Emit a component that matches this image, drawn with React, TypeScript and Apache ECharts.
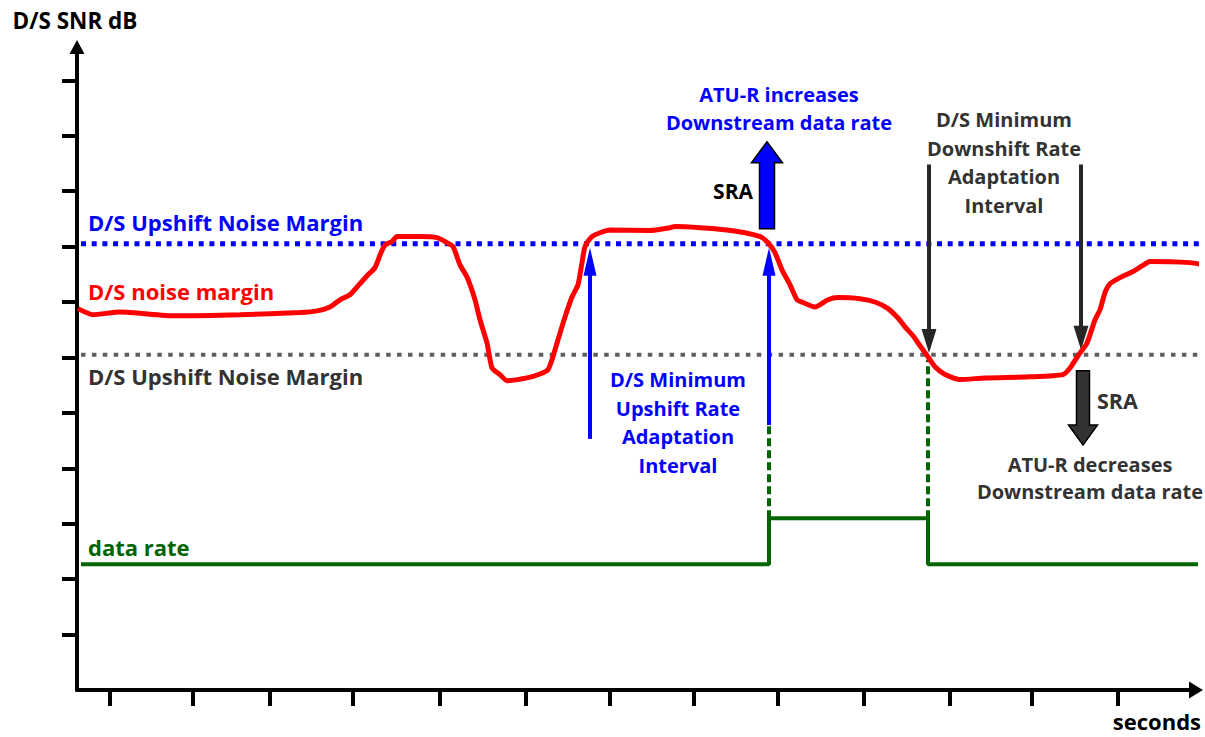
import React, { useEffect, useRef } from 'react';
import * as echarts from 'echarts';

// Axis ticks (arbitrary units: x in "seconds", y in dB)
const xTicks = [3.3, 11.6, 19.3, 27.6, 36.3, 44.9, 53.3, 61.7, 70.1, 78.7, 87.3, 95.5, 104.1];
const yTicks = [1, 2, 3, 4, 5, 6, 7, 8, 9, 10, 11];

// D/S noise margin (red curve)
const noiseX = [0.1, 1.6, 4.3, 9.8, 16.3, 22.3, 24.0, 25.3, 26.3, 27.3, 28.3, 29.1, 29.8, 30.4, 30.8, 31.5, 32.0, 34.3, 36.0, 37.0, 37.6, 38.3, 39.0, 39.8, 40.3, 41.0, 41.5, 42.3, 43.0, 45.0, 46.3, 47.1, 47.5, 48.1, 48.8, 49.5, 50.1, 50.5, 50.8, 51.5, 53.3, 57.3, 59.3, 59.8, 62.3, 65.0, 66.8, 68.3, 69.1, 69.8, 70.5, 71.3, 72.0, 72.6, 73.8, 75.1, 76.1, 78.3, 79.8, 81.1, 82.1, 82.8, 83.6, 84.3, 85.1, 85.8, 86.8, 88.3, 90.8, 95.3, 98.6, 99.3, 100.1, 101.0, 101.8, 102.3, 102.8, 103.3, 104.3, 105.6, 106.5, 107.3, 111.3, 112.7];
const noiseY = [6.88, 6.77, 6.82, 6.75, 6.77, 6.81, 6.84, 6.91, 7.04, 7.13, 7.33, 7.49, 7.62, 7.89, 8.03, 8.09, 8.18, 8.18, 8.16, 8.07, 8.0, 7.67, 7.45, 7.04, 6.68, 6.26, 5.81, 5.69, 5.58, 5.63, 5.7, 5.78, 5.96, 6.32, 6.73, 7.09, 7.31, 7.71, 8.0, 8.18, 8.3, 8.29, 8.34, 8.36, 8.34, 8.3, 8.25, 8.18, 8.07, 7.89, 7.58, 7.31, 7.04, 6.99, 6.91, 7.04, 7.08, 7.06, 7.0, 6.88, 6.71, 6.55, 6.39, 6.21, 6.01, 5.83, 5.69, 5.6, 5.63, 5.65, 5.69, 5.81, 6.03, 6.26, 6.68, 6.86, 7.17, 7.33, 7.44, 7.55, 7.65, 7.73, 7.71, 7.67];

// Threshold lines
const upshiftMargin = 8.05;
const downshiftMargin = 6.05;
const marginLineX = [0.4, 112.8];

// Data rate (green step)
const dataRateX = [0.4, 69.2, 85.1, 112.3];
const dataRateY = [2.27, 3.1, 2.27, 2.27];

// Annotation arrows: [x, yFrom, yTo]
const upshiftArrows = [[51.3, 4.53, 7.98], [69.2, 4.78, 7.98]];
const downshiftArrows = [[85.2, 9.48, 6.08], [100.4, 9.48, 6.14]];
const rateChangeMarkers = [[69.2, 3.1, 4.78], [85.1, 3.1, 5.96]];
const sraUpArrow = [[69.0, 8.32, 9.89]];
const sraDownArrow = [[100.6, 5.76, 4.42]];

const BLUE = '#0000ff';
const RED = '#ff0000';
const GREEN = '#006400';
const DARK = '#262626';
const GRAY_TEXT = '#333333';
const GRAY_LINE = '#5f5f5f';
const FONT = (s: number) => `bold ${s}px "Open Sans"`;

function thinArrow(color: string, headW: number, headL: number, width: number) {
  return (params: any, api: any) => {
    const p0 = api.coord([api.value(0), api.value(1)]);
    const p1 = api.coord([api.value(0), api.value(2)]);
    const dir = p1[1] > p0[1] ? 1 : -1;
    const hy = p1[1] - dir * headL;
    return {
      type: 'group',
      children: [
        { type: 'line', shape: { x1: p0[0], y1: p0[1], x2: p1[0], y2: hy + dir * 2 }, style: { stroke: color, lineWidth: width } },
        { type: 'polygon', shape: { points: [[p1[0] - headW / 2, hy], [p1[0], p1[1]], [p1[0] + headW / 2, hy]] }, style: { fill: color } },
      ],
    };
  };
}

function blockArrow(color: string, bodyW: number, headW: number, headL: number) {
  return (params: any, api: any) => {
    const p0 = api.coord([api.value(0), api.value(1)]);
    const p1 = api.coord([api.value(0), api.value(2)]);
    const cx = p0[0];
    const dir = p1[1] > p0[1] ? 1 : -1;
    const hy = p1[1] - dir * headL;
    const bh = bodyW / 2;
    const hh = headW / 2;
    return {
      type: 'polygon',
      shape: { points: [[cx - bh, p0[1]], [cx - bh, hy], [cx - hh, hy], [cx, p1[1]], [cx + hh, hy], [cx + bh, hy], [cx + bh, p0[1]]] },
      style: { fill: color, stroke: '#000', lineWidth: 1.5 },
    };
  };
}

function dashedMarker(color: string) {
  return (params: any, api: any) => {
    const p0 = api.coord([api.value(0), api.value(1)]);
    const p1 = api.coord([api.value(0), api.value(2)]);
    return { type: 'line', shape: { x1: p0[0], y1: p0[1], x2: p1[0], y2: p1[1] }, style: { stroke: color, lineWidth: 4, lineDash: [8, 4] } };
  };
}

function txt(text: string, x: number, y: number, fill: string, align: string, size = 20, lineHeight = 28.7) {
  return {
    type: 'text',
    x,
    y,
    z: 100,
    style: { text, fill, font: FONT(size), textAlign: align, align, textVerticalAlign: 'middle', verticalAlign: 'middle', lineHeight },
  };
}

export default function App() {
  const ref = useRef<HTMLDivElement>(null);
  useEffect(() => {
    document.body.style.margin = '0';
    const chart = echarts.init(ref.current!, null, { renderer: 'svg' });
    const option: any = {
      animation: false,
      backgroundColor: '#ffffff',
      grid: { left: 77, right: 9, top: 47, bottom: 47, containLabel: false },
      xAxis: {
        type: 'value', min: 0, max: 111.9,
        axisLine: { show: true, symbol: ['none', 'triangle'], symbolSize: [17, 14], lineStyle: { color: '#000', width: 4 } },
        axisTick: { show: true, customValues: xTicks, length: 16, inside: false, lineStyle: { color: '#000', width: 4 } },
        axisLabel: { show: false },
        splitLine: { show: false },
      },
      yAxis: {
        type: 'value', min: 0, max: 11.6,
        axisLine: { show: true, symbol: ['none', 'triangle'], symbolSize: [15, 14], lineStyle: { color: '#000', width: 4 } },
        axisTick: { show: true, customValues: yTicks, length: 15, inside: false, lineStyle: { color: '#000', width: 4 } },
        axisLabel: { show: false },
        splitLine: { show: false },
      },
      series: [
        {
          type: 'line', z: 1, clip: false, symbol: 'none', silent: true,
          data: marginLineX.map((x) => [x, upshiftMargin]),
          lineStyle: { color: BLUE, width: 5, type: [5, 5.7], cap: 'butt' },
        },
        {
          type: 'line', z: 1, clip: false, symbol: 'none', silent: true,
          data: marginLineX.map((x) => [x, downshiftMargin]),
          lineStyle: { color: GRAY_LINE, width: 4, type: [4.5, 6.4], cap: 'butt' },
        },
        {
          type: 'line', z: 2, clip: false, symbol: 'none', silent: true, step: 'end',
          data: dataRateX.map((x, i) => [x, dataRateY[i]]),
          lineStyle: { color: GREEN, width: 4 },
        },
        { type: 'custom', z: 2, silent: true, clip: false, data: rateChangeMarkers, renderItem: dashedMarker(GREEN) },
        { type: 'custom', z: 4, silent: true, clip: false, data: upshiftArrows, renderItem: thinArrow(BLUE, 13, 28, 4) },
        { type: 'custom', z: 4, silent: true, clip: false, data: downshiftArrows, renderItem: thinArrow(DARK, 15, 24, 4) },
        { type: 'custom', z: 4, silent: true, clip: false, data: sraUpArrow, renderItem: blockArrow(BLUE, 15, 31, 21) },
        { type: 'custom', z: 4, silent: true, clip: false, data: sraDownArrow, renderItem: blockArrow('#333333', 13, 29, 20) },
        {
          type: 'line', z: 5, clip: false, symbol: 'none', silent: true, smooth: 0.2,
          data: noiseX.map((x, i) => [x, noiseY[i]]),
          lineStyle: { color: RED, width: 5 },
        },
      ],
      graphic: [
        txt('D/S SNR dB', 75, 20, '#000', 'center', 22.5),
        txt('seconds', 1201, 721, '#000', 'right', 22),
        txt('D/S Upshift Noise Margin', 88, 222, BLUE, 'left', 22),
        txt('D/S noise margin', 88, 291, RED, 'left', 22),
        txt('D/S Upshift Noise Margin', 88, 376, GRAY_TEXT, 'left', 22),
        txt('data rate', 88, 547, GREEN, 'left', 22),
        txt('ATU-R increases\nDownstream data rate', 779, 108, BLUE, 'center', 20, 28),
        txt('SRA', 753, 191, '#000', 'right', 21),
        txt('D/S Minimum\nUpshift Rate\nAdaptation\nInterval', 678, 422.5, BLUE, 'center'),
        txt('D/S Minimum\nDownshift Rate\nAdaptation\nInterval', 1004, 162.5, GRAY_TEXT, 'center', 20, 28.5),
        txt('SRA', 1097, 400, GRAY_TEXT, 'left', 21.5),
        txt('ATU-R decreases\nDownstream data rate', 1090, 477.5, GRAY_TEXT, 'center', 20, 27),
      ],
    };
    chart.setOption(option);
    return () => chart.dispose();
  }, []);
  return <div ref={ref} style={{ width: 1205, height: 737 }} />;
}
